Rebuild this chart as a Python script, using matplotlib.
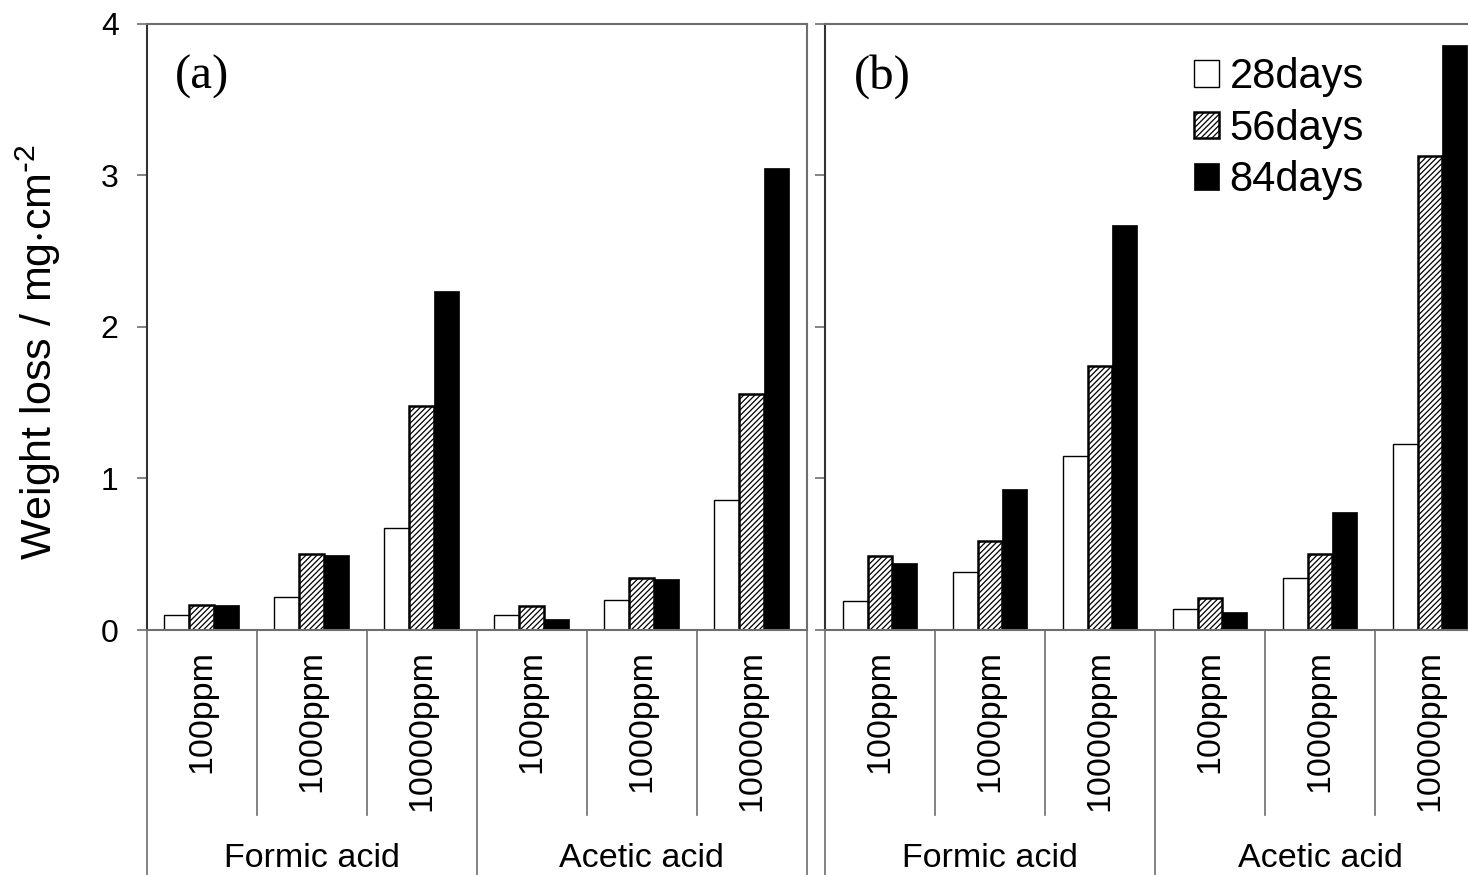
import numpy as np
import matplotlib.pyplot as plt
import matplotlib.transforms as mtransforms

plt.rcParams['font.family'] = ['Liberation Sans', 'DejaVu Sans']
plt.rcParams['mathtext.default'] = 'regular'
plt.rcParams['hatch.linewidth'] = 0.9

# data
concentrations = ['100ppm', '1000ppm', '10000ppm']
acids = ['Formic acid', 'Acetic acid']
series = ['28days', '56days', '84days']

# panel (a): Formic 100/1000/10000, Acetic 100/1000/10000
a_28 = [0.10, 0.22, 0.67, 0.10, 0.20, 0.86]
a_56 = [0.165, 0.50, 1.48, 0.16, 0.34, 1.56]
a_84 = [0.165, 0.495, 2.24, 0.07, 0.335, 3.05]

# panel (b)
b_28 = [0.19, 0.38, 1.15, 0.14, 0.34, 1.23]
b_56 = [0.49, 0.59, 1.74, 0.21, 0.50, 3.13]
b_84 = [0.44, 0.93, 2.67, 0.12, 0.78, 3.86]

panel_labels = ['(a)', '(b)']
frame_col = '#6e6e6e'

fig = plt.figure(figsize=(14.68, 8.75), dpi=100)
ax_a = fig.add_axes([146.5 / 1468, 0.28, 660 / 1468, 0.6926])
ax_b = fig.add_axes([825 / 1468, 0.28, 660 / 1468, 0.6926])

x = np.arange(6)
w = 0.227


def draw_panel(ax, d28, d56, d84, label, show_labels):
    ax.bar(x - w, d28, w, color='white', edgecolor='black', linewidth=1.0, label=series[0])
    ax.bar(x, d56, w, color='white', edgecolor='black', hatch='//////', linewidth=1.8, label=series[1])
    ax.bar(x + w, d84, w, color='black', edgecolor='black', linewidth=0.5, label=series[2])
    ax.set_xlim(-0.5, 5.5)
    ax.set_ylim(0, 4)
    ax.set_yticks([0, 1, 2, 3, 4])
    ax.set_xticks([])
    ax.tick_params(axis='y', direction='out', length=7, width=1.2, color=frame_col,
                   labelsize=23, pad=13, labelleft=show_labels)
    for s in ['left', 'right', 'top', 'bottom']:
        ax.spines[s].set_color(frame_col)
        ax.spines[s].set_linewidth(1.5)
    ax.spines['left'].set_color('#333333')

    ax.text(0.043, 0.95, label, transform=ax.transAxes, ha='left', va='top',
            fontsize=35, family='Liberation Serif')

    # category table below the axis
    trans = mtransforms.blended_transform_factory(ax.transData, ax.transAxes)
    for b in np.arange(-0.5, 6.0, 1.0):
        bottom = -0.41 if b in (-0.5, 2.5, 5.5) else -0.305
        ax.plot([b, b], [0, bottom], transform=trans, color=frame_col, lw=1.2, clip_on=False)
    for i in range(6):
        ax.text(i, -0.033, concentrations[i % 3], transform=trans, rotation=90,
                ha='center', va='top', fontsize=24.5)
    for g, name in enumerate(acids):
        ax.text(1 + 3 * g, -0.377, name, transform=trans, ha='center', va='center', fontsize=24.5)


draw_panel(ax_a, a_28, a_56, a_84, panel_labels[0], True)
draw_panel(ax_b, b_28, b_56, b_84, panel_labels[1], False)

ax_b.legend(loc='upper left', bbox_to_anchor=(1194 / 1468, 1 - 57 / 875),
            bbox_transform=fig.transFigure, frameon=False, fontsize=30,
            handlelength=0.6, handleheight=0.6, handletextpad=0.25,
            labelspacing=0.28, borderpad=0, borderaxespad=0)

fig.text(38 / 1468, 1 - 352 / 875, 'Weight loss / mg$\\cdot$cm$^{\\text{-}2}$', rotation=90,
         ha='center', va='center', fontsize=31)

fig.savefig('out.png', dpi=100)
